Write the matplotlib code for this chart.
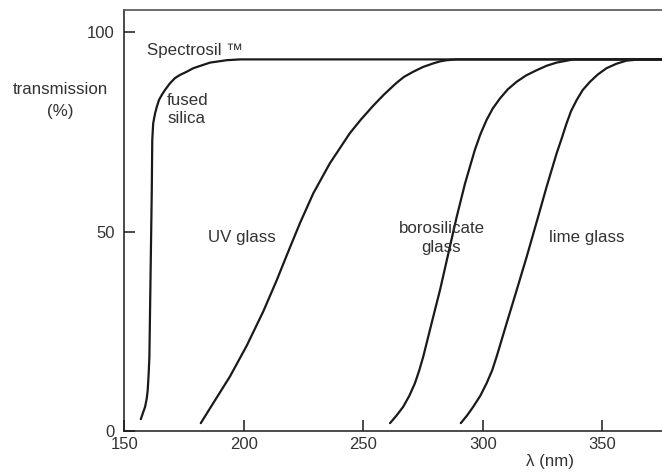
import matplotlib.pyplot as plt

plt.rcParams['font.family'] = ['Liberation Sans', 'DejaVu Sans']

# transmission curves (wavelength nm, transmission %)
silica_x = [156.9, 158.0, 158.7, 159.4, 159.8, 160.2, 160.5, 161.0, 161.5, 161.7,
            162.1, 162.9, 163.6, 164.5, 165.7, 167.0, 169.1, 171.2, 173.3, 176.1,
            178.9, 185.9, 192.9, 198.4, 375.0]
silica_y = [2.9, 4.8, 6.0, 8.1, 10.2, 14.4, 18.6, 39.5, 60.4, 73.0,
            77.2, 79.7, 81.3, 83.0, 84.3, 85.5, 87.2, 88.5, 89.3, 90.1,
            91.0, 92.4, 93.0, 93.2, 93.2]

uv_x = [182.0, 187.2, 194.2, 201.2, 208.2, 213.8, 218.3, 223.5, 229.1, 236.0,
        244.4, 249.0, 254.2, 258.7, 263.7, 267.0, 270.9, 275.0, 279.3, 282.1,
        284.9, 289.1, 375.0]
uv_y = [1.9, 6.9, 13.6, 21.3, 30.0, 37.8, 44.5, 52.1, 59.6, 67.1,
        74.7, 78.1, 81.6, 84.4, 87.2, 88.8, 90.1, 91.3, 92.2, 92.7,
        93.0, 93.2, 93.2]

boro_x = [261.2, 263.9, 266.7, 269.3, 271.6, 273.4, 275.1, 278.6, 282.1, 285.6,
          289.1, 292.6, 296.7, 299.0, 301.6, 304.2, 307.2, 310.5, 314.2, 318.2,
          322.6, 326.7, 330.9, 337.9, 375.0]
boro_y = [1.9, 3.8, 6.0, 8.8, 11.9, 15.1, 18.6, 27.0, 35.3, 44.5,
          53.7, 62.1, 70.5, 74.4, 78.0, 80.9, 83.4, 85.7, 87.6, 89.2,
          90.5, 91.6, 92.4, 93.2, 93.2]

lime_x = [290.8, 293.4, 296.0, 299.0, 301.6, 303.9, 305.8, 310.0, 314.2, 318.4,
          322.6, 326.7, 330.9, 333.1, 335.1, 337.0, 339.3, 341.8, 344.9, 348.1,
          351.8, 355.9, 360.2, 365.8, 375.0]
lime_y = [1.9, 3.8, 6.0, 8.8, 11.9, 15.1, 18.6, 27.0, 35.3, 43.7,
          52.5, 61.2, 69.6, 73.5, 77.2, 80.3, 83.0, 85.5, 87.6, 89.4,
          91.0, 92.1, 92.9, 93.2, 93.2]

xticks = [150, 200, 250, 300, 350]
yticks = [0, 50, 100]

W, H = 662, 473
fig = plt.figure(figsize=(W / 100, H / 100), dpi=100)
ax = fig.add_axes([124.3 / W, 42.3 / H, (W - 124.3) / W, 420.7 / H])

line_col = '#1a1a1a'
text_col = '#333333'
for xs, ys in [(silica_x, silica_y), (uv_x, uv_y), (boro_x, boro_y), (lime_x, lime_y)]:
    ax.plot(xs, ys, color=line_col, lw=1.6, solid_capstyle='round', solid_joinstyle='round')

ax.set_xlim(150, 375)
ax.set_ylim(0, 105.6)
ax.set_xticks(xticks)
ax.set_yticks(yticks)
ax.tick_params(direction='in', length=7.7, width=1.1, colors=line_col,
               labelcolor=text_col, labelsize=12)
ax.tick_params(axis='x', pad=4.4)
ax.tick_params(axis='y', pad=7)

ax.spines['right'].set_visible(False)
for s in ['left', 'bottom']:
    ax.spines[s].set_color(line_col)
    ax.spines[s].set_linewidth(1.1)
ax.spines['top'].set_color('#555555')
ax.spines['top'].set_linewidth(1.2)

# curve labels
fs = 12.2
ax.text(159.6, 94.3, 'Spectrosil ™', fontsize=fs, color=text_col, ha='left', va='baseline')
ax.text(176.3, 81.75, 'fused', fontsize=fs, color=text_col, ha='center', va='baseline')
ax.text(176.1, 77.16, 'silica', fontsize=fs, color=text_col, ha='center', va='baseline')
ax.text(199.1, 47.3, 'UV glass', fontsize=fs, color=text_col, ha='center', va='baseline')
ax.text(282.8, 49.5, 'borosilicate', fontsize=fs, color=text_col, ha='center', va='baseline')
ax.text(282.7, 44.8, 'glass', fontsize=fs, color=text_col, ha='center', va='baseline')
ax.text(343.7, 47.3, 'lime glass', fontsize=fs, color=text_col, ha='center', va='baseline')

# axis titles
fig.text(60 / W, 1 - 94 / H, 'transmission', fontsize=fs, color=text_col, ha='center', va='baseline')
fig.text(60 / W, 1 - 116 / H, '(%)', fontsize=fs, color=text_col, ha='center', va='baseline')
fig.text(550.3 / W, 1 - 466 / H, 'λ (nm)', fontsize=fs, color=text_col, ha='center', va='baseline')

fig.savefig('out.png', dpi=100)
